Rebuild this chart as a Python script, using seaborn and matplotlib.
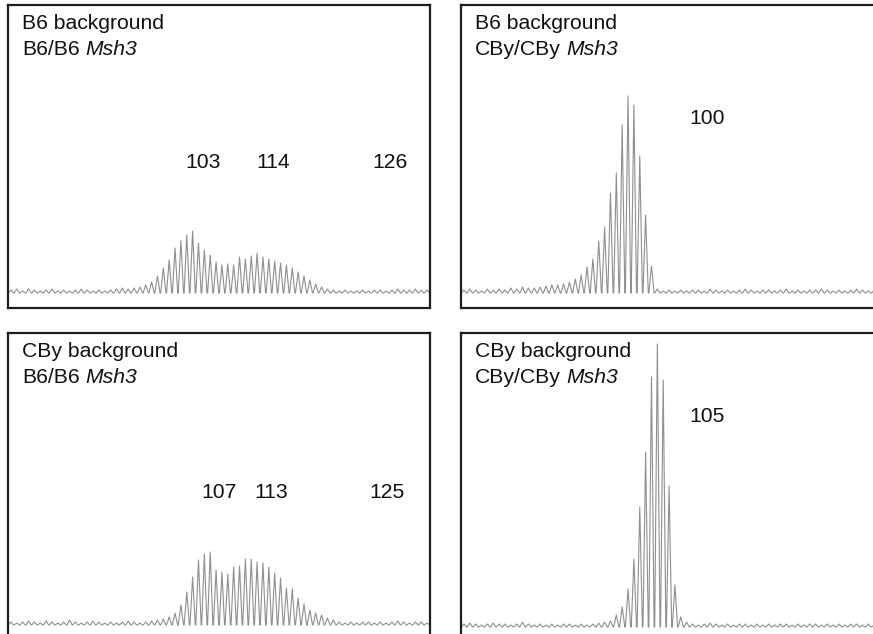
import matplotlib
matplotlib.use("Agg")
import matplotlib.pyplot as plt
import seaborn as sns
import numpy as np

sns.set_style("white")
plt.rcParams["font.family"] = ["Liberation Sans", "DejaVu Sans"]

# panel text
backgrounds = ["B6 background", "B6 background", "CBy background", "CBy background"]
genotypes = ["B6/B6", "CBy/CBy", "B6/B6", "CBy/CBy"]
gene = "Msh3"

# peak heights (signal) at each repeat position 0..71, one list per panel
b6_b6 = ([3, 4, 2, 4, 3, 2, 3, 4, 2, 3, 2, 3, 4, 3, 2, 3, 2, 3, 4, 5, 4]
         + [5, 6, 8, 11, 17, 25, 33, 45, 52, 58, 62, 50, 43, 38, 31, 28, 29,
            28, 36, 34, 37, 40, 36, 34, 32, 30, 28, 25, 21, 17, 13, 9, 6, 4]
         + [3, 2, 3, 2, 2, 3, 2, 3, 3, 2, 3, 4, 3, 3, 4, 3, 3])
b6_cby = ([3, 4, 3, 2, 4, 3, 4, 3, 5, 4, 6, 5]
          + [5, 6, 7, 8, 8, 9, 11, 14, 18, 26, 34, 52, 66, 100, 120, 168,
             197, 188, 137, 78, 27]
          + [4, 2, 3, 2, 3, 2, 3, 3, 2, 4, 3, 2, 3, 2, 3, 4, 3, 2, 3, 3,
             2, 3, 4, 2, 3, 2, 3, 3, 4, 3, 2, 3, 2, 3, 4, 3, 2, 3, 3])
cby_b6 = ([3, 2, 3, 4, 3, 2, 4, 3, 2, 3, 5, 3, 2, 3, 4, 3, 2, 3, 2, 3, 4,
           3, 2, 3, 4, 5, 6]
          + [8, 12, 20, 33, 48, 65, 71, 73, 55, 53, 51, 58, 59, 66, 66, 63,
             62, 58, 52, 47, 37, 36, 27, 21, 15, 12, 10, 7, 5]
          + [3, 2, 3, 2, 3, 3, 2, 3, 2, 3, 4, 3, 2, 3, 3, 2])
cby_cby = ([3, 4, 3, 2, 3, 4, 3, 3, 2, 3, 5, 3, 2, 3, 2, 3, 2, 3, 3, 2, 3,
            2, 3, 4, 5]
           + [6, 12, 20, 38, 68, 120, 175, 250, 283, 247, 141, 42, 10]
           + [5, 3, 2, 3, 4, 3, 2, 3, 2, 3, 3, 2, 3, 2, 3, 2, 3, 3, 2, 3,
              2, 3, 3, 2, 3, 2, 3, 2, 3, 3, 2, 3, 2, 3])
traces = [b6_b6, b6_cby, cby_b6, cby_cby]

# repeat-length labels and where they sit (position, signal)
label_text = [["103", "114", "126"], ["100"], ["107", "113", "125"], ["105"]]
label_x = [[32.8, 44.7, 64.7], [41.5], [35.5, 44.4, 64.2], [41.5]]
label_y = [[131, 131, 131], [174], [133, 133, 133], [211]]

W, H = 873, 634
# panel boxes in pixels: left, top, width, height
boxes = [(8, 5, 422, 303), (461, 5, 422, 303),
         (8, 333, 422, 306), (461, 333, 422, 306)]
ylims = [(-15, 288), (-15, 288), (-14, 292), (-12, 294)]
fs = 15.2

fig = plt.figure(figsize=(W / 100, H / 100), dpi=100)

for k in range(4):
    l, t, w, h = boxes[k]
    ax = fig.add_axes([l / W, 1 - (t + h) / H, w / W, h / H])
    heights = traces[k]
    xs, ys = [], []
    for i, v in enumerate(heights):
        xs += [i - 0.45, i, i + 0.45]
        ys += [0, v, 0]
    sns.lineplot(x=xs, y=ys, sort=False, estimator=None, ax=ax,
                 color="#8f8f8f", linewidth=0.8)
    ax.set_xlim(-0.5, 71.5)
    ax.set_ylim(*ylims[k])
    ax.set_xticks([])
    ax.set_yticks([])
    ax.set_xlabel("")
    ax.set_ylabel("")
    for s in ax.spines.values():
        s.set_visible(True)
        s.set_linewidth(1.6)
        s.set_color("#1e1e1e")

    # header text
    ax.text(0.033, 1 - 24 / h, backgrounds[k], transform=ax.transAxes,
            fontsize=fs, va="baseline", ha="left", color="#111111")
    t1 = ax.text(0.033, 1 - 50 / h, genotypes[k], transform=ax.transAxes,
                 fontsize=fs, va="baseline", ha="left", color="#111111")
    ax.annotate(gene, xy=(1, 0), xycoords=t1, xytext=(4, 0),
                textcoords="offset points", fontsize=fs, fontstyle="italic",
                va="bottom", ha="left", color="#111111")

    for txt, lx, ly in zip(label_text[k], label_x[k], label_y[k]):
        ax.text(lx, ly, txt, fontsize=fs, ha="center", va="center",
                color="#111111")

fig.savefig("out.png", dpi=100)
